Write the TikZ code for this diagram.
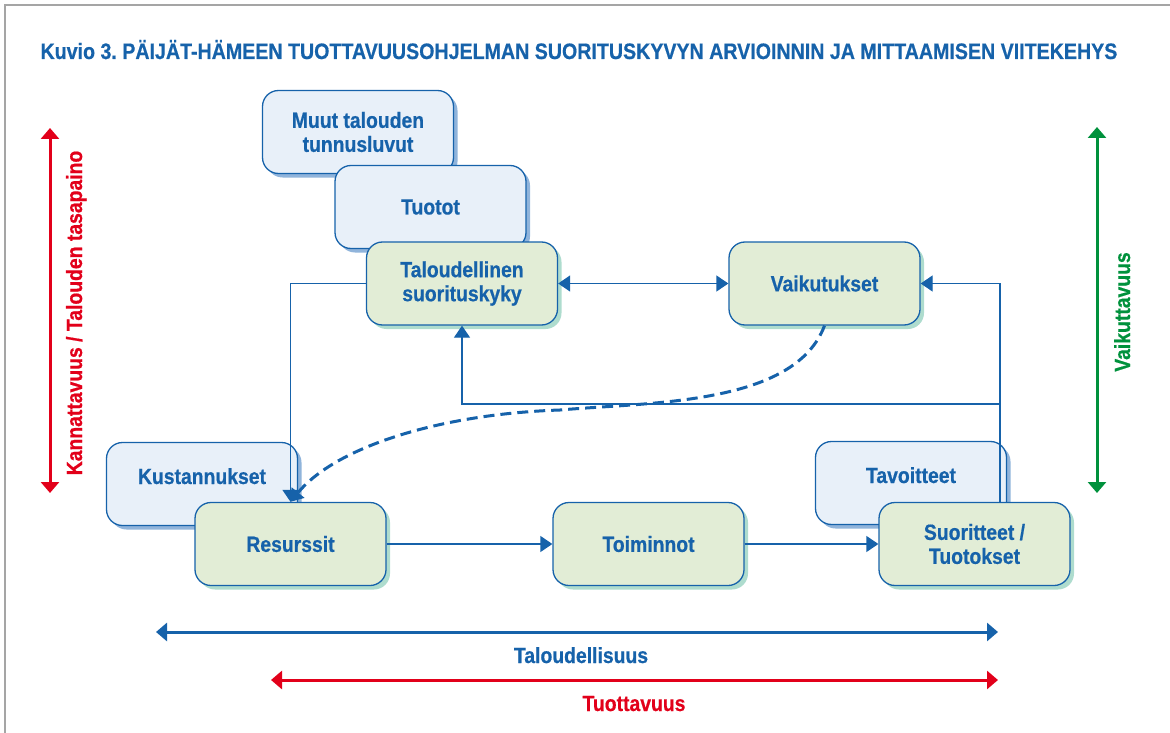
\documentclass[tikz,border=0pt]{standalone}
\usepackage{fontspec}
\setmainfont[FakeStretch=0.88, BoldFeatures={FakeBold=0.6}]{Liberation Sans}
\usetikzlibrary{arrows.meta,shadows}
\frenchspacing
\definecolor{kblue}{RGB}{22,98,170}
\definecolor{kred}{RGB}{226,0,26}
\definecolor{kgreen}{RGB}{0,145,60}
\definecolor{kfillb}{RGB}{232,240,249}
\definecolor{kfillg}{RGB}{226,237,214}
\definecolor{kshadeb}{RGB}{70,130,195}
\definecolor{kshadeg}{RGB}{140,205,185}
\definecolor{kframe}{RGB}{165,165,165}
\tikzset{
  box/.style={draw=kblue, line width=1.3pt, rounded corners=16pt,
    minimum width=191pt, minimum height=83pt, align=center, text=kblue,
    font=\bfseries\fontsize{22}{24}\selectfont, inner sep=2pt},
  bluebox/.style={box, fill=kfillb,
    drop shadow={shadow xshift=4pt, shadow yshift=-4pt, fill=kshadeb, opacity=.6}},
  greenbox/.style={box, fill=kfillg,
    drop shadow={shadow xshift=4pt, shadow yshift=-4pt, fill=kshadeg, opacity=.7}},
  backtext/.style={text height=16pt, text depth=16pt},
  link/.style={draw=kblue, line width=1.3pt, -{Triangle[length=12pt,width=16pt]}},
  bigarrow/.style={line width=3pt, {Triangle[length=11pt,width=18pt]}-{Triangle[length=11pt,width=18pt]}},
  label/.style={font=\bfseries\fontsize{22}{24}\selectfont, anchor=base}
}
\begin{document}
\begin{tikzpicture}[x=1pt, y=-1pt]
  \useasboundingbox (0,0) rectangle (1170,733);
  \draw[kframe, line width=1.2pt] (5,733) -- (5,5) -- (1170,5);
  \node[label, anchor=base west, text=kblue, font=\bfseries\fontsize{22.3}{24}\selectfont] (title) at (37,59)
    {Kuvio 3. PÄIJÄT-HÄMEEN TUOTTAVUUSOHJELMAN SUORITUSKYVYN ARVIOINNIN JA MITTAAMISEN VIITEKEHYS};
  \draw
    (358,132) node[bluebox] (muut){Muut talouden\\tunnusluvut}
    (430.5,207) node[bluebox] (tuotot){Tuotot}
    (462,283.5) node[greenbox] (talous){Taloudellinen\\suorituskyky}
    (824.5,283.5) node[greenbox] (vaik){Vaikutukset}
    (202,484) node[bluebox, backtext] (kust){Kustannukset}
    (290.5,544) node[greenbox] (res){Resurssit}
    (648.5,544) node[greenbox] (toim){Toiminnot}
    (911,483) node[bluebox, backtext] (tavo){Tavoitteet}
    (974.5,544) node[greenbox] (suor){Suoritteet /\\Tuotokset};
  \coordinate (rc) at (1000,283.5);
  \coordinate (rj) at (1000,404);
  \coordinate (dm) at (560,410);
  \begin{scope}[link]
    \draw[{Triangle[length=12pt,width=16pt]}-{Triangle[length=12pt,width=16pt]}] (talous) to (vaik);
    \draw (res) to (toim);
    \draw (toim) to (suor);
    \draw (suor.north -| rc) -- (rc) -- (vaik.east);
    \draw (rj) -| (talous.south);
    \draw (talous.west) -| (res.north);
    \draw[line width=3pt, dash pattern=on 11pt off 6pt]
      (vaik.south) .. controls +(-30,80) and +(90,-8) .. (dm)
      .. controls +(-120,4) and +(45,-55) .. (res.north);
  \end{scope}
  \coordinate (kt1) at (50,128);
  \coordinate (kt2) at (50,493);
  \coordinate (vt1) at (1097,127);
  \coordinate (vt2) at (1097,493);
  \coordinate (tl1) at (156,632);
  \coordinate (tl2) at (998,632);
  \coordinate (tu1) at (271,680);
  \coordinate (tu2) at (998,680);
  \draw[bigarrow, kred] (kt1) -- (kt2);
  \draw[bigarrow, kgreen] (vt1) -- (vt2);
  \draw[bigarrow, kblue] (tl1) -- (tl2);
  \draw[bigarrow, kred] (tu1) -- (tu2);
  \node[label, rotate=90, text=kred] (kanna) at (82,313) {Kannattavuus / Talouden tasapaino};
  \node[label, rotate=90, text=kgreen] (vaiku) at (1130,312) {Vaikuttavuus};
  \node[label, text=kblue] (talo) at (581,663) {Taloudellisuus};
  \node[label, text=kred] (tuott) at (634,711) {Tuottavuus};
\end{tikzpicture}
\end{document}
